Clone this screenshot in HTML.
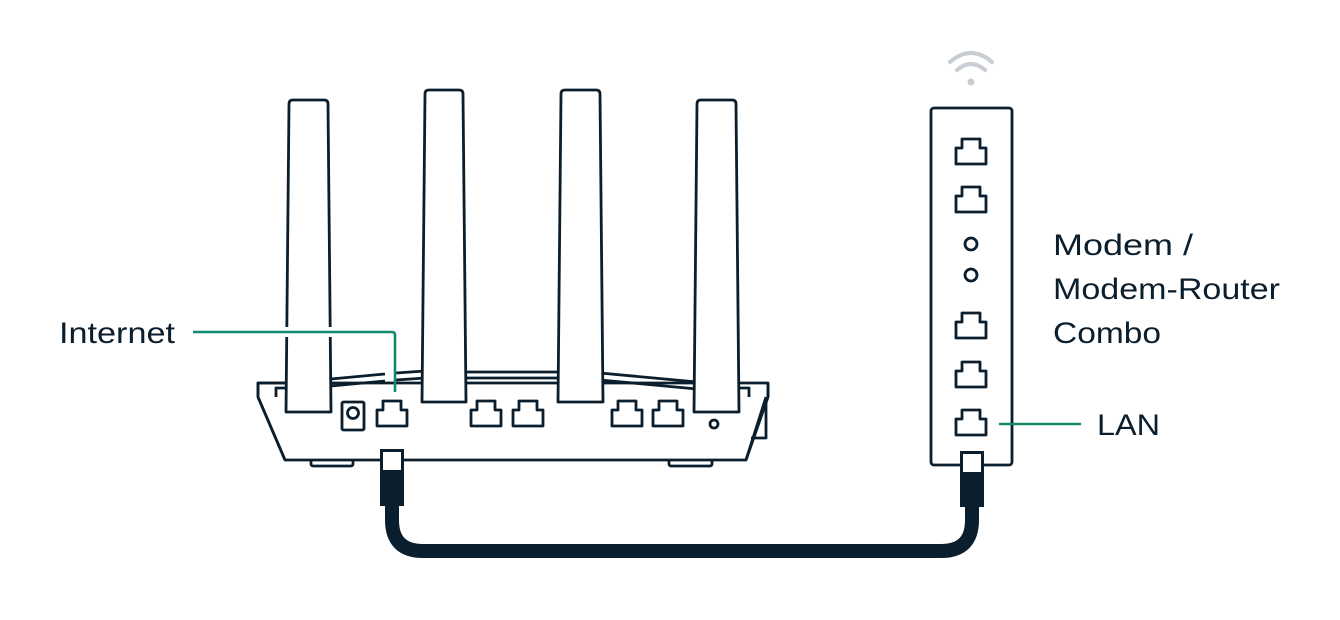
<!DOCTYPE html>
<html><head><meta charset="utf-8"><style>
html,body{margin:0;padding:0;background:#fff;}
svg{display:block}
text{font-family:"Liberation Sans",sans-serif;font-size:30px;fill:#0b1e2d}
</style></head><body>
<svg width="1340" height="620" viewBox="0 0 1340 620" xmlns="http://www.w3.org/2000/svg">
<defs>
<path id="port" d="M0,25 V9 H6 V0 H24 V9 H30 V25 Z" fill="#fff" stroke="#0b1e2d" stroke-width="2.8" stroke-linejoin="round"/>
</defs>
<g fill="none" stroke="#0b1e2d" stroke-width="2.8" stroke-linejoin="round">
<rect x="311" y="458" width="42" height="8" rx="2" fill="#fff"/>
<rect x="669" y="458" width="43" height="8" rx="2" fill="#fff"/>
<path d="M258,383 H768 V397 L746,460 H285 L258,397 Z" fill="#fff"/>
<path d="M258,397 V383 H285 M276,397 V388 H285" />
<path d="M768,383 V397 M749,397 V388 H738 M766,397 V438 H751"/>
<path d="M258,397 L285,460 M766,397 L746,460"/>
<path d="M331,379 L385,374 M396,373 L425,371 M331,386 L385,381 M396,380 L425,378"/>
<path d="M463,372 H561 M463,378 H561"/>
<path d="M600,373 L697,382 M600,380 L697,389"/>
<path d="M286,412 L289,104 Q289,100 293,100 H324 Q328,100 328,104 L331,412 Z" fill="#fff"/>
<path d="M422,402 L425,94 Q425,90 429,90 H459 Q463,90 463,94 L466,402 Z" fill="#fff"/>
<path d="M558,402 L561,94 Q561,90 565,90 H596 Q600,90 600,94 L603,402 Z" fill="#fff"/>
<path d="M694,412 L697,104 Q697,100 701,100 H732 Q736,100 736,104 L739,412 Z" fill="#fff"/>
<rect x="342" y="402" width="22" height="28" rx="1.5"/>
<circle cx="353" cy="413" r="5.5"/>
<circle cx="714" cy="424" r="4"/>
</g>
<rect x="284" y="327" width="50" height="10" fill="#fff"/>
<use href="#port" x="377" y="401"/>
<use href="#port" x="471" y="401"/>
<use href="#port" x="513" y="401"/>
<use href="#port" x="612" y="401"/>
<use href="#port" x="653" y="401"/>
<path d="M193,332 H392 Q395,332 395,335 V392" fill="none" stroke="#11896b" stroke-width="2.6"/>
<rect x="931" y="108" width="81" height="357" rx="3" fill="#fff" stroke="#0b1e2d" stroke-width="2.8"/>
<use href="#port" x="956" y="139"/>
<use href="#port" x="956" y="187"/>
<circle cx="971" cy="244" r="6" fill="none" stroke="#0b1e2d" stroke-width="2.8"/>
<circle cx="971" cy="275" r="6" fill="none" stroke="#0b1e2d" stroke-width="2.8"/>
<use href="#port" x="956" y="313"/>
<use href="#port" x="956" y="362"/>
<use href="#port" x="956" y="410"/>
<path d="M999,424 H1081" stroke="#11896b" stroke-width="2.6"/>
<g fill="none" stroke="#c9ced3" stroke-width="4" stroke-linecap="round">
<path d="M950,62 Q971,44 992,62"/>
<path d="M957,70 Q971,58 985,70"/>
</g>
<circle cx="971" cy="82" r="3.5" fill="#c9ced3"/>
<path d="M392,505 V520 Q392,551 423,551 H941 Q972,551 972,520 V505" fill="none" stroke="#0b1e2d" stroke-width="14"/>
<rect x="380" y="449" width="24" height="57" fill="#0b1e2d"/>
<rect x="383" y="452" width="18" height="18" fill="#fff"/>
<rect x="960" y="451" width="24" height="56" fill="#0b1e2d"/>
<rect x="963" y="454" width="18" height="18" fill="#fff"/>
<text x="59" y="343" textLength="116" lengthAdjust="spacingAndGlyphs">Internet</text>
<text x="1053" y="255" textLength="140" lengthAdjust="spacingAndGlyphs">Modem /</text>
<text x="1053" y="299" textLength="227" lengthAdjust="spacingAndGlyphs">Modem-Router</text>
<text x="1053" y="343" textLength="108" lengthAdjust="spacingAndGlyphs">Combo</text>
<text x="1097" y="435" textLength="63" lengthAdjust="spacingAndGlyphs">LAN</text>
</svg>
</body></html>
